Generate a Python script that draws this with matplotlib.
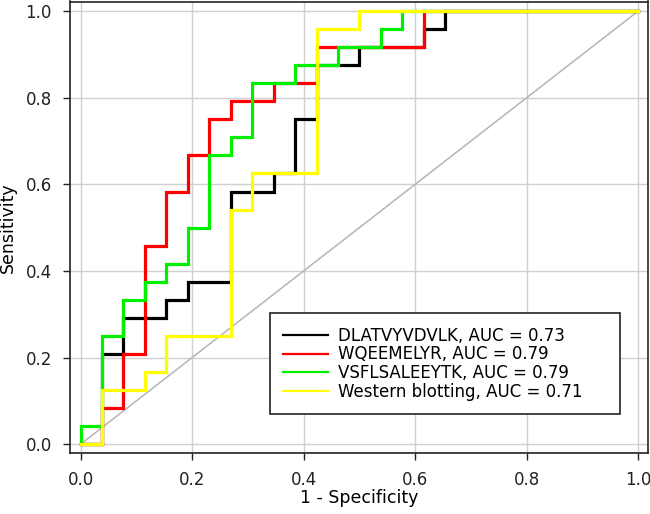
import matplotlib
matplotlib.use("Agg")
import matplotlib.pyplot as plt
import numpy as np

# Sample sizes (steps: 26 controls, 24 cases)
n_neg = 26
n_pos = 24

# ROC step points (false-positive count, true-positive count), drawn as steps-post
fp_black = [0, 1, 2, 4, 5, 7, 9, 10, 11, 13, 16, 17, 26]
tp_black = [0, 5, 7, 8, 9, 14, 15, 18, 21, 22, 23, 24, 24]

fp_red = [0, 1, 2, 3, 4, 5, 6, 7, 9, 11, 16, 26]
tp_red = [0, 2, 5, 11, 14, 16, 18, 19, 20, 22, 24, 24]

fp_green = [0, 0, 1, 2, 3, 4, 5, 6, 7, 8, 10, 12, 14, 15, 26]
tp_green = [0, 1, 6, 8, 9, 10, 12, 16, 17, 20, 21, 22, 23, 24, 24]

fp_yellow = [0, 1, 3, 4, 7, 8, 11, 13, 26]
tp_yellow = [0, 3, 4, 6, 13, 15, 23, 24, 24]

labels = ["DLATVYVDVLK, AUC = 0.73",
          "WQEEMELYR, AUC = 0.79",
          "VSFLSALEEYTK, AUC = 0.79",
          "Western blotting, AUC = 0.71"]
colors = ["#000000", "#ff0000", "#00f000", "#ffff00"]
ticks = [0.0, 0.2, 0.4, 0.6, 0.8, 1.0]
tick_labels = ["0.0", "0.2", "0.4", "0.6", "0.8", "1.0"]

W, H = 650, 514
fig = plt.figure(figsize=(W / 100, H / 100), dpi=100)
ax = fig.add_axes([70 / W, 1 - 453.3 / H, (648.3 - 70) / W, (453.3 - 1.5) / H])

ax.set_xlim(-0.019, 1.018)
ax.set_ylim(-0.021, 1.022)
ax.set_xticks(ticks)
ax.set_yticks(ticks)
ax.set_xticklabels(tick_labels)
ax.set_yticklabels(tick_labels)
ax.grid(True, color="#d0d0d0", linewidth=1.0, zorder=0)
ax.set_axisbelow(True)

ax.plot([0, 1], [0, 1], color="#b4b4b4", linewidth=1.1, zorder=1)

series = [(fp_black, tp_black), (fp_red, tp_red), (fp_green, tp_green), (fp_yellow, tp_yellow)]
for (fp, tp), c, lab in zip(series, colors, labels):
    x = np.array(fp) / n_neg
    y = np.array(tp) / n_pos
    ax.plot(x, y, drawstyle="steps-post", color=c, linewidth=2.3, label=lab,
            solid_joinstyle="miter", zorder=2)

for s in ax.spines.values():
    s.set_color("#222222")
    s.set_linewidth(1.2)

ax.tick_params(direction="out", length=5, width=1, pad=8, labelsize=12, colors="#222222")
ax.set_xlabel("1 - Specificity", fontsize=12.5)
ax.xaxis.set_label_coords(0.5, (453.3 - 489.0) / (453.3 - 1.5))
ax.set_ylabel("Sensitivity", fontsize=12.5, labelpad=6)

x0 = (270 - 70) / (648.3 - 70)
x1 = (620 - 70) / (648.3 - 70)
ytop = (453.3 - 313.3) / (453.3 - 1.5)
ybot = (453.3 - 411.7) / (453.3 - 1.5)
leg = ax.legend(loc="upper left", bbox_to_anchor=(x0, ybot, x1 - x0, ytop - ybot),
                mode="expand", borderaxespad=0, fontsize=12, frameon=True,
                fancybox=False, edgecolor="#222222", framealpha=1,
                handlelength=2.7, handletextpad=0.55, labelspacing=0.05,
                borderpad=0.8)
leg.get_frame().set_linewidth(1.2)
for l in leg.get_lines():
    l.set_linewidth(1.6)

fig.savefig("out.png", dpi=100)
